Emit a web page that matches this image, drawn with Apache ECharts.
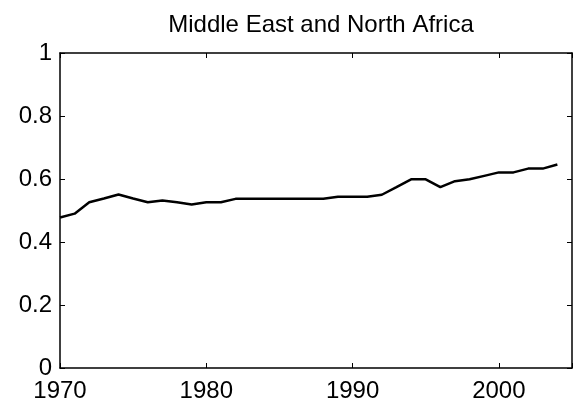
<!DOCTYPE html>
<html>
<head>
<meta charset="utf-8">
<script src="https://cdn.jsdelivr.net/npm/echarts@6/dist/echarts.min.js"></script>
<style>
  html, body { margin: 0; padding: 0; background: #fff; }
  #chart { width: 576px; height: 409px; }
</style>
</head>
<body>
<div id="chart"></div>
<script>
// years and values
const years = [1970, 1971, 1972, 1973, 1974, 1975, 1976, 1977, 1978, 1979,
  1980, 1981, 1982, 1983, 1984, 1985, 1986, 1987, 1988, 1989,
  1990, 1991, 1992, 1993, 1994, 1995, 1996, 1997, 1998, 1999,
  2000, 2001, 2002, 2003, 2004];
const values = [0.478, 0.490, 0.526, 0.538, 0.551, 0.538, 0.526, 0.532, 0.526, 0.519,
  0.526, 0.526, 0.537, 0.537, 0.537, 0.537, 0.537, 0.537, 0.537, 0.544,
  0.544, 0.544, 0.550, 0.574, 0.599, 0.599, 0.574, 0.593, 0.599, 0.610,
  0.621, 0.621, 0.633, 0.633, 0.646];
const titleText = "Middle East and North Africa";

const chart = echarts.init(document.getElementById("chart"));

const font = "Liberation Sans, Arial, sans-serif";
const lineStyle = { color: "#000", width: 1.5 };

// box axes: bottom/left labelled, top/right only ticks
const xBase = {
  type: "value",
  min: 1970,
  max: 2005,
  interval: 10,
  axisLine: { show: true, onZero: false, lineStyle },
  axisTick: { show: true, inside: true, length: 5, lineStyle: { color: "#000", width: 1 } },
  splitLine: { show: false },
};
const yBase = {
  type: "value",
  min: 0,
  max: 1,
  interval: 0.2,
  axisLine: { show: true, onZero: false, lineStyle },
  axisTick: { show: true, inside: true, length: 5, lineStyle: { color: "#000", width: 1 } },
  splitLine: { show: false },
};

chart.setOption({
  animation: false,
  title: {
    text: titleText,
    left: 316,
    textAlign: "center",
    top: 8,
    textStyle: { fontFamily: font, fontSize: 24, fontWeight: "normal", color: "#000" },
  },
  grid: { left: 60, right: 4, top: 53, bottom: 41 },
  xAxis: [
    Object.assign({}, xBase, {
      position: "bottom",
      axisLabel: {
        show: true, color: "#000", fontFamily: font, fontSize: 24, margin: 11,
        formatter: (v) => (v % 10 === 0 ? String(v) : ""),
      },
    }),
    Object.assign({}, xBase, { position: "top", axisLabel: { show: false } }),
  ],
  yAxis: [
    Object.assign({}, yBase, {
      position: "left",
      axisLabel: {
        show: true, color: "#000", fontFamily: font, fontSize: 24, margin: 8,
        formatter: (v) => String(Math.round(v * 10) / 10),
      },
    }),
    Object.assign({}, yBase, { position: "right", axisLabel: { show: false } }),
  ],
  series: [
    {
      type: "line",
      data: years.map((y, i) => [y, values[i]]),
      showSymbol: false,
      lineStyle: { color: "#000", width: 2.5 },
    },
  ],
});
</script>
</body>
</html>
